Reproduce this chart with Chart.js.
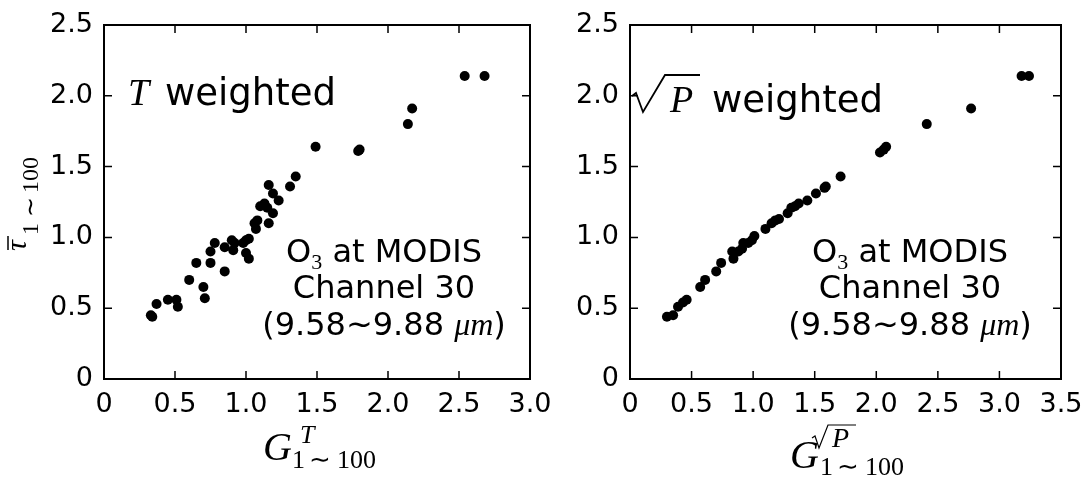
<!DOCTYPE html>
<html>
<head>
<meta charset="utf-8">
<script src="https://cdn.jsdelivr.net/npm/chart.js@4.4.0/dist/chart.umd.min.js"></script>
<style>
  body { margin: 0; background: #fff; }
  .panel { position: absolute; top: 0; height: 481px; }
</style>
</head>
<body>
<div class="panel" style="left:0;width:570px"><canvas id="leftChart" width="570" height="481"></canvas></div>
<div class="panel" style="left:544px;width:544px"><canvas id="rightChart" width="544" height="481"></canvas></div>
<script>
// --- Data ---
const leftX = [2.54, 2.68, 2.17, 2.14, 1.49, 1.79, 1.80, 1.35, 1.31, 1.16, 1.19, 1.23, 1.10, 1.13, 1.15,
               1.19, 1.16, 1.08, 1.06, 1.07, 1.02, 1.00, 0.98, 1.00, 1.02, 0.90, 0.92, 0.85, 0.91, 0.78,
               0.75, 0.65, 0.75, 0.85, 0.60, 0.70, 0.71, 0.45, 0.51, 0.52, 0.37, 0.33, 0.34];
const leftY = [2.14, 2.14, 1.91, 1.80, 1.64, 1.61, 1.62, 1.43, 1.36, 1.37, 1.31, 1.26, 1.22, 1.24, 1.21,
               1.17, 1.10, 1.12, 1.10, 1.06, 0.99, 0.98, 0.96, 0.89, 0.85, 0.98, 0.96, 0.93, 0.91, 0.96,
               0.90, 0.82, 0.82, 0.76, 0.70, 0.65, 0.57, 0.56, 0.56, 0.51, 0.53, 0.45, 0.44];
const rightX = [3.18, 3.24, 2.77, 2.41, 2.08, 2.03, 2.06, 1.71, 1.59, 1.58, 1.51, 1.44, 1.37, 1.34, 1.31,
                1.28, 1.21, 1.18, 1.15, 1.10, 1.01, 0.99, 0.96, 0.92, 0.91, 0.88, 0.83, 0.84, 0.74, 0.70,
                0.61, 0.57, 0.46, 0.43, 0.39, 0.35, 0.30];
const rightY = [2.14, 2.14, 1.91, 1.80, 1.64, 1.60, 1.62, 1.43, 1.36, 1.35, 1.31, 1.26, 1.24, 1.22, 1.21,
                1.17, 1.13, 1.12, 1.10, 1.06, 1.01, 0.98, 0.96, 0.96, 0.92, 0.90, 0.90, 0.85, 0.82, 0.76,
                0.70, 0.65, 0.56, 0.54, 0.51, 0.45, 0.44];
const yTickVals = [0, 0.5, 1.0, 1.5, 2.0, 2.5];
const leftXTickVals = [0, 0.5, 1.0, 1.5, 2.0, 2.5, 3.0];
const rightXTickVals = [0, 0.5, 1.0, 1.5, 2.0, 2.5, 3.0, 3.5];

const SANS = 'DejaVu Sans';
const SERIF = 'Liberation Serif';

// --- Helpers ---
function fmt(v) { return v === 0 ? '0' : v.toFixed(1); }

function toPoints(xs, ys) { return xs.map((x, i) => ({x: x, y: ys[i]})); }

function runWidth(ctx, parts) {
    let w = 0;
    parts.forEach(p => { ctx.font = p.f; w += ctx.measureText(p.t).width; });
    return w;
}

function drawRun(ctx, x, y, parts) {
    parts.forEach(p => {
        ctx.font = p.f;
        ctx.fillText(p.t, x, y + (p.dy || 0));
        x += ctx.measureText(p.t).width;
    });
}

function drawCentered(ctx, cx, y, parts) {
    drawRun(ctx, cx - runWidth(ctx, parts) / 2, y, parts);
}

// sqrt sign as a polyline: hook, down stroke, up stroke, overbar
function radical(ctx, pts, lw) {
    ctx.beginPath();
    ctx.lineWidth = lw;
    ctx.moveTo(pts[0][0], pts[0][1]);
    for (let i = 1; i < pts.length; i++) ctx.lineTo(pts[i][0], pts[i][1]);
    ctx.stroke();
}

function drawO3Note(ctx, a) {
    const cx = a.left + 280;
    drawCentered(ctx, cx, 262, [
        {t: 'O', f: `32px ${SANS}`},
        {t: '3', f: `22px ${SERIF}`, dy: 7},
        {t: ' at MODIS', f: `32px ${SANS}`}
    ]);
    drawCentered(ctx, cx, 298, [{t: 'Channel 30', f: `32px ${SANS}`}]);
    drawCentered(ctx, cx, 335, [
        {t: '(9.58~9.88 ', f: `32px ${SANS}`},
        {t: 'μm', f: `italic 32px ${SERIF}`},
        {t: ')', f: `32px ${SANS}`}
    ]);
}

function drawYTitle(ctx) {
    ctx.save();
    ctx.translate(26, 251);
    ctx.rotate(-Math.PI / 2);
    ctx.font = `italic 30px ${SERIF}`;
    ctx.fillText('τ', 0, 0);
    ctx.lineWidth = 1.5;
    ctx.beginPath();
    ctx.moveTo(1, -18);
    ctx.lineTo(15, -18);
    ctx.stroke();
    ctx.font = `24px ${SERIF}`;
    ctx.fillText('1', 16, 12);
    ctx.fillText('∼', 34, 12);
    ctx.fillText('100', 58, 12);
    ctx.restore();
}

// inward ticks on all four sides plus the box
const framePlugin = {
    id: 'frame',
    afterDraw(chart) {
        const ctx = chart.ctx, a = chart.chartArea;
        const x = chart.scales.x, y = chart.scales.y;
        ctx.save();
        ctx.strokeStyle = '#000';
        ctx.lineWidth = 1.5;
        ctx.beginPath();
        x.ticks.forEach(t => {
            const p = x.getPixelForValue(t.value);
            ctx.moveTo(p, a.bottom); ctx.lineTo(p, a.bottom - 8);
            ctx.moveTo(p, a.top); ctx.lineTo(p, a.top + 8);
        });
        y.ticks.forEach(t => {
            const p = y.getPixelForValue(t.value);
            ctx.moveTo(a.left, p); ctx.lineTo(a.left + 8, p);
            ctx.moveTo(a.right, p); ctx.lineTo(a.right - 8, p);
        });
        ctx.stroke();
        ctx.lineWidth = 2;
        ctx.strokeRect(a.left, a.top, a.right - a.left, a.bottom - a.top);
        ctx.restore();
    }
};

const leftText = {
    id: 'leftText',
    afterDraw(chart) {
        const ctx = chart.ctx, a = chart.chartArea;
        ctx.save();
        ctx.fillStyle = '#000';
        ctx.strokeStyle = '#000';
        ctx.textBaseline = 'alphabetic';
        ctx.font = `italic 38px ${SERIF}`;
        ctx.fillText('T', 128, 105);
        ctx.font = `37px ${SANS}`;
        ctx.fillText('weighted', 165, 105);
        drawO3Note(ctx, a);
        drawYTitle(ctx);
        // G^T_{1~100}
        ctx.font = `italic 40px ${SERIF}`;
        ctx.fillText('G', 263, 460);
        ctx.font = `italic 26px ${SERIF}`;
        ctx.fillText('T', 300, 443);
        ctx.font = `26px ${SERIF}`;
        ctx.fillText('1', 292, 468);
        ctx.fillText('∼', 309, 468);
        ctx.fillText('100', 337, 468);
        ctx.restore();
    }
};

const rightText = {
    id: 'rightText',
    afterDraw(chart) {
        const ctx = chart.ctx, a = chart.chartArea;
        ctx.save();
        ctx.fillStyle = '#000';
        ctx.strokeStyle = '#000';
        ctx.textBaseline = 'alphabetic';
        radical(ctx, [[88, 96], [92, 93], [99, 112], [121, 75], [156, 75]], 1.8);
        ctx.font = `italic 38px ${SERIF}`;
        ctx.fillText('P', 126, 112);
        ctx.font = `37px ${SANS}`;
        ctx.fillText('weighted', 168, 112);
        drawO3Note(ctx, a);
        // G^{sqrt P}_{1~100}
        ctx.font = `italic 40px ${SERIF}`;
        ctx.fillText('G', 246, 468);
        radical(ctx, [[268, 438], [271, 436], [275, 448], [284, 425], [312, 425]], 1.2);
        ctx.font = `italic 28px ${SERIF}`;
        ctx.fillText('P', 288, 447);
        ctx.font = `26px ${SERIF}`;
        ctx.fillText('1', 276, 475);
        ctx.fillText('∼', 293, 475);
        ctx.fillText('100', 321, 475);
        ctx.restore();
    }
};

function makeScatter(id, xs, ys, xMax, xTicks, yWidth, rightPad, extra) {
    return new Chart(document.getElementById(id), {
        type: 'scatter',
        data: {
            datasets: [{
                data: toPoints(xs, ys),
                backgroundColor: '#000',
                borderWidth: 0,
                pointRadius: 5,
                pointHoverRadius: 5
            }]
        },
        options: {
            responsive: false,
            animation: false,
            layout: {padding: {left: 0, top: 25, right: rightPad, bottom: 0}},
            plugins: {legend: {display: false}, tooltip: {enabled: false}},
            scales: {
                x: {
                    type: 'linear', min: 0, max: xMax,
                    afterBuildTicks: s => { s.ticks = xTicks.map(v => ({value: v})); },
                    afterFit: s => { s.height = 102; s.paddingLeft = 0; s.paddingRight = 0; },
                    grid: {display: false, drawTicks: false},
                    border: {display: false},
                    ticks: {autoSkip: false, maxRotation: 0, padding: 10, color: '#000',
                            font: {family: SANS, size: 27}, callback: fmt}
                },
                y: {
                    type: 'linear', min: 0, max: 2.5,
                    afterBuildTicks: s => { s.ticks = yTickVals.map(v => ({value: v})); },
                    afterFit: s => { s.width = yWidth; s.paddingTop = 0; s.paddingBottom = 0; },
                    grid: {display: false, drawTicks: false},
                    border: {display: false},
                    ticks: {autoSkip: false, padding: 11, color: '#000',
                            font: {family: SANS, size: 27}, callback: fmt}
                }
            }
        },
        plugins: [framePlugin, extra]
    });
}

makeScatter('leftChart', leftX, leftY, 3.0, leftXTickVals, 104, 40, leftText);
makeScatter('rightChart', rightX, rightY, 3.5, rightXTickVals, 86, 27, rightText);
</script>
</body>
</html>
